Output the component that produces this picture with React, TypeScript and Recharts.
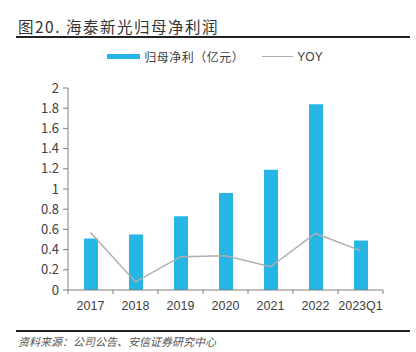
import React from 'react';
import { ComposedChart, Bar, Line, XAxis, YAxis } from 'recharts';

const categories = ['2017', '2018', '2019', '2020', '2021', '2022', '2023Q1'];
const profit = [0.51, 0.55, 0.73, 0.96, 1.19, 1.84, 0.49];
const yoy = [0.57, 0.08, 0.33, 0.34, 0.23, 0.56, 0.39];
const yTicks = [0, 0.2, 0.4, 0.6, 0.8, 1, 1.2, 1.4, 1.6, 1.8, 2];

const data = categories.map((c, i) => ({ name: c, profit: profit[i], yoy: yoy[i] }));

const BLUE = '#27B5E6';
const GREY = '#AFAFAF';
const TEXT = '#404040';
const CJK = '"Noto Sans CJK SC", "Noto Sans", sans-serif';
const NARROW = '"Liberation Sans Narrow", "Liberation Sans", sans-serif';

function XTick({ x, y, payload, index }: any) {
  const half = payload?.offset ?? 22.5;
  return (
    <g>
      <line x1={x - half} y1={y - 8} x2={x - half} y2={y - 4} stroke="#808080" />
      {index === categories.length - 1 && (
        <line x1={x + half} y1={y - 8} x2={x + half} y2={y - 4} stroke="#808080" />
      )}
      <text x={x} y={y} dy={12} textAnchor="middle" fontSize={12.5} fill={TEXT} fontFamily={NARROW}>
        {payload.value}
      </text>
    </g>
  );
}

export default function App() {
  return (
    <div style={{ position: 'absolute', left: 0, top: 0, width: 416, height: 352, background: '#fff' }}>
      <div style={{ position: 'absolute', left: 18, top: 15, fontFamily: CJK, fontSize: 15.5, fontWeight: 400, color: '#333', letterSpacing: 1.5 }}>
        图20. 海泰新光归母净利润
      </div>
      <div style={{ position: 'absolute', left: 16, top: 36, width: 394, height: 1.5, background: '#222' }} />
      <div style={{ position: 'absolute', left: 0, top: 48, width: 416, display: 'flex', justifyContent: 'center', alignItems: 'center', fontFamily: CJK, fontSize: 12, color: TEXT, paddingLeft: 14, boxSizing: 'border-box' }}>
        <span style={{ display: 'inline-block', width: 33, height: 5, background: BLUE, marginRight: 4 }} />
        <span style={{ marginRight: 18, letterSpacing: 0.5 }}>归母净利（亿元）</span>
        <span style={{ display: 'inline-block', width: 31, height: 1, background: GREY, marginRight: 4 }} />
        <span style={{ fontFamily: NARROW, fontSize: 12 }}>YOY</span>
      </div>
      <ComposedChart width={416} height={352} data={data} margin={{ top: 88, right: 33, left: 0, bottom: 32 }}>
        <XAxis dataKey="name" tick={<XTick />} tickLine={false} axisLine={{ stroke: '#808080' }} height={30} interval={0} />
        <YAxis domain={[0, 2]} ticks={yTicks} width={68} interval={0}
          tick={{ fontSize: 13, fill: TEXT, fontFamily: CJK }}
          tickLine={{ stroke: '#808080' }} tickSize={5} tickMargin={4}
          axisLine={{ stroke: '#808080' }}
          tickFormatter={(v: number) => String(Math.round(v * 10) / 10)} />
        <Bar dataKey="profit" fill={BLUE} barSize={14} isAnimationActive={false} />
        <Line dataKey="yoy" stroke={GREY} strokeWidth={1.5} dot={false} type="linear" isAnimationActive={false} />
      </ComposedChart>
      <div style={{ position: 'absolute', left: 16, top: 330, width: 394, height: 1.5, background: '#222' }} />
      <div style={{ position: 'absolute', left: 18, top: 333, fontFamily: CJK, fontSize: 11, color: '#555', fontStyle: 'italic' }}>
        资料来源：公司公告、安信证券研究中心
      </div>
    </div>
  );
}
